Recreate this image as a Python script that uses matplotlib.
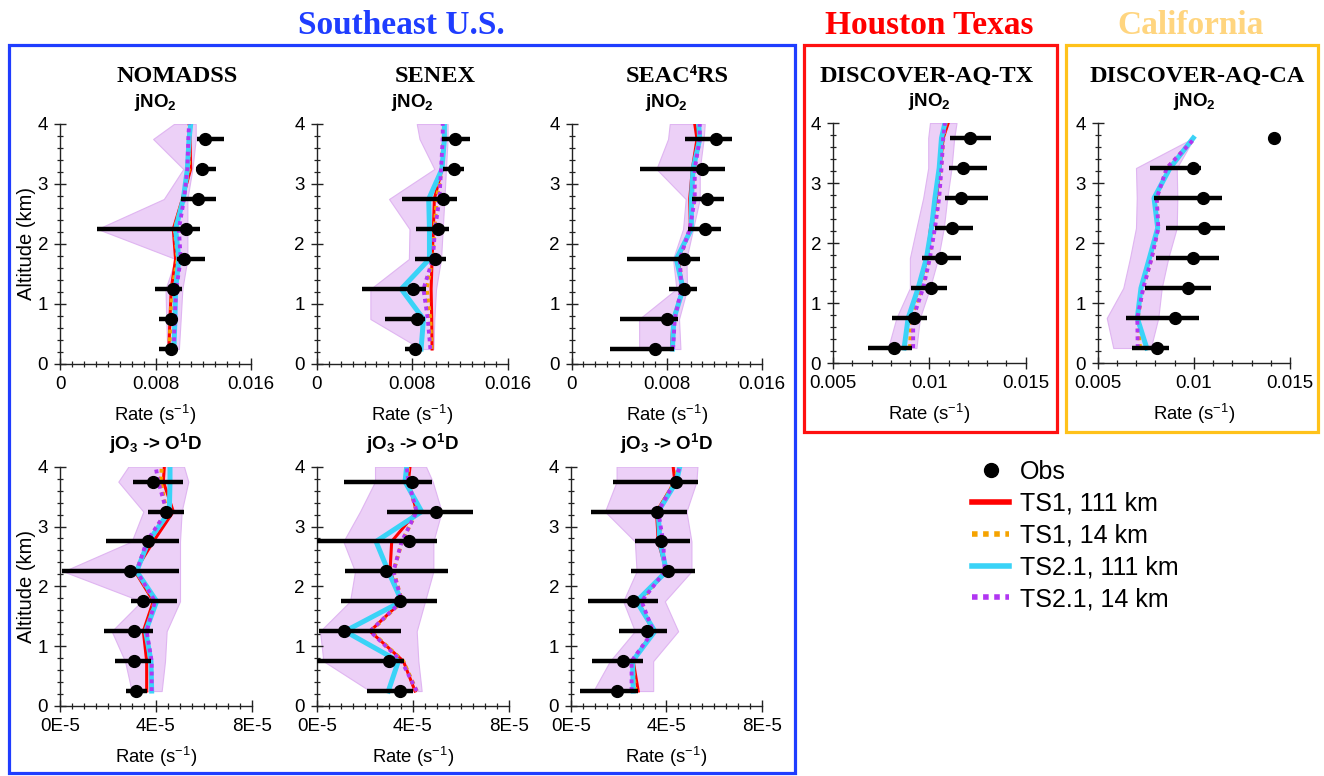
import numpy as np
import matplotlib
matplotlib.use("Agg")
import matplotlib.pyplot as plt
from matplotlib.lines import Line2D
from matplotlib.patches import Rectangle
from matplotlib.ticker import MultipleLocator, FixedLocator, FixedFormatter

plt.rcParams["font.family"] = ["Liberation Sans", "DejaVu Sans"]
plt.rcParams["mathtext.fontset"] = "custom"
plt.rcParams["mathtext.rm"] = "Liberation Sans"
plt.rcParams["mathtext.it"] = "Liberation Sans:italic"
plt.rcParams["mathtext.bf"] = "Liberation Sans:bold"

# ---------------------------------------------------------------- data
# altitude bins (km): observations, and model profiles (which reach the top)
z_obs = [0.25, 0.75, 1.25, 1.75, 2.25, 2.75, 3.25, 3.75]
z_mod = [0.25, 0.75, 1.25, 1.75, 2.25, 2.75, 3.25, 3.75, 4.0]
z_mod_ca = [0.25, 0.75, 1.25, 1.75, 2.25, 2.75, 3.25, 3.75]

series_labels = ["Obs", "TS1, 111 km", "TS1, 14 km", "TS2.1, 111 km", "TS2.1, 14 km"]
region_titles = ["Southeast U.S.", "Houston Texas", "California"]
campaigns = ["NOMADSS", "SENEX", "SEAC\u2074RS", "DISCOVER-AQ-TX", "DISCOVER-AQ-CA"]

# jNO2 (s-1) -- NOMADSS
nomadss_jno2_obs = [0.00926, 0.00932, 0.00949, 0.01039, 0.01055, 0.01157, 0.01187, 0.01213]
nomadss_jno2_lo = [0.00831, 0.00831, 0.00794, 0.00982, 0.00314, 0.01011, 0.01137, 0.01151]
nomadss_jno2_hi = [0.00982, 0.00974, 0.01025, 0.01213, 0.01173, 0.01305, 0.01305, 0.01370]
nomadss_jno2_ts1_111 = [0.00912, 0.00921, 0.00932, 0.00968, 0.00949, 0.01025, 0.01095, 0.01089, 0.01095]
nomadss_jno2_ts1_14 = [0.00918, 0.00925, 0.00940, 0.00985, 0.00960, 0.01030, 0.01080, 0.01080, 0.01085]
nomadss_jno2_ts2_111 = [0.00954, 0.00963, 0.00968, 0.00996, 0.00968, 0.01033, 0.01067, 0.01081, 0.01095]
nomadss_jno2_ts2_14 = [0.00954, 0.00960, 0.00974, 0.01011, 0.00996, 0.01039, 0.01067, 0.01075, 0.01081]
nomadss_jno2_rng_lo = [0.00898, 0.00890, 0.00884, 0.00968, 0.00314, 0.00870, 0.01033, 0.00780, 0.00954]
nomadss_jno2_rng_hi = [0.00996, 0.01011, 0.01025, 0.01067, 0.01067, 0.01067, 0.01109, 0.01137, 0.01137]

# jNO2 (s-1) -- SENEX
senex_jno2_obs = [0.00826, 0.00840, 0.00804, 0.00990, 0.01018, 0.01059, 0.01151, 0.01156]
senex_jno2_lo = [0.00735, 0.00574, 0.00380, 0.00824, 0.00832, 0.00713, 0.01059, 0.01045]
senex_jno2_hi = [0.00873, 0.00907, 0.00910, 0.01081, 0.01104, 0.01170, 0.01234, 0.01284]
senex_jno2_ts1_111 = [0.00965, 0.00962, 0.00957, 0.00965, 0.00976, 0.00984, 0.01048, 0.01068, 0.01068]
senex_jno2_ts1_14 = [0.00960, 0.00950, 0.00920, 0.00968, 0.00985, 0.01005, 0.01045, 0.01060, 0.01060]
senex_jno2_ts2_111 = [0.00873, 0.00893, 0.00707, 0.00943, 0.00943, 0.00937, 0.01048, 0.01068, 0.01068]
senex_jno2_ts2_14 = [0.00951, 0.00929, 0.00893, 0.00971, 0.00990, 0.01026, 0.01040, 0.01054, 0.01054]
senex_jno2_rng_lo = [0.00873, 0.00449, 0.00449, 0.00771, 0.00776, 0.00605, 0.00984, 0.00860, 0.00837]
senex_jno2_rng_hi = [0.00976, 0.00984, 0.00998, 0.01040, 0.01054, 0.01068, 0.01081, 0.01095, 0.01095]

# jNO2 (s-1) -- SEAC4RS
seac4rs_jno2_obs = [0.00699, 0.00803, 0.00945, 0.00943, 0.01119, 0.01141, 0.01099, 0.01217]
seac4rs_jno2_lo = [0.00327, 0.00411, 0.00817, 0.00470, 0.00979, 0.01015, 0.00579, 0.00957]
seac4rs_jno2_hi = [0.00859, 0.00895, 0.01054, 0.01082, 0.01259, 0.01281, 0.01292, 0.01351]
seac4rs_jno2_ts1_111 = [0.00839, 0.00853, 0.00937, 0.00895, 0.00999, 0.00993, 0.01015, 0.01054, 0.01035]
seac4rs_jno2_ts1_14 = [0.00850, 0.00862, 0.00928, 0.00905, 0.00995, 0.01025, 0.01030, 0.01070, 0.01070]
seac4rs_jno2_ts2_111 = [0.00848, 0.00859, 0.00937, 0.00881, 0.01007, 0.01007, 0.01021, 0.01077, 0.01068]
seac4rs_jno2_ts2_14 = [0.00853, 0.00867, 0.00923, 0.00909, 0.00993, 0.01035, 0.01035, 0.01077, 0.01077]
seac4rs_jno2_rng_lo = [0.00568, 0.00568, 0.00881, 0.00853, 0.00937, 0.00959, 0.00713, 0.00811, 0.00825]
seac4rs_jno2_rng_hi = [0.00915, 0.00903, 0.00971, 0.00965, 0.01021, 0.01077, 0.01077, 0.01110, 0.01119]

# jNO2 (s-1) -- DISCOVER-AQ Texas
tx_jno2_obs = [0.00819, 0.00918, 0.01011, 0.01058, 0.01115, 0.01164, 0.01176, 0.01210]
tx_jno2_lo = [0.00682, 0.00805, 0.00904, 0.00964, 0.01029, 0.01081, 0.01103, 0.01107]
tx_jno2_hi = [0.00911, 0.00990, 0.01094, 0.01162, 0.01228, 0.01302, 0.01297, 0.01320]
tx_jno2_ts1_111 = [0.00869, 0.00890, 0.00945, 0.00989, 0.01006, 0.01037, 0.01055, 0.01072, 0.01098]
tx_jno2_ts1_14 = [0.00900, 0.00905, 0.00960, 0.00998, 0.01020, 0.01045, 0.01060, 0.01072, 0.01085]
tx_jno2_ts2_111 = [0.00869, 0.00890, 0.00942, 0.00985, 0.01011, 0.01029, 0.01051, 0.01063, 0.01081]
tx_jno2_ts2_14 = [0.00916, 0.00916, 0.00968, 0.01003, 0.01029, 0.01051, 0.01063, 0.01072, 0.01081]
tx_jno2_rng_lo = [0.00786, 0.00829, 0.00899, 0.00899, 0.00933, 0.00968, 0.00994, 0.00994, 0.01003]
tx_jno2_rng_hi = [0.00933, 0.00951, 0.01003, 0.01046, 0.01075, 0.01093, 0.01115, 0.01129, 0.01141]

# jNO2 (s-1) -- DISCOVER-AQ California
ca_jno2_obs = [0.00807, 0.00902, 0.00968, 0.00997, 0.01055, 0.01046, 0.00994, 0.01419]
ca_jno2_lo = [0.00680, 0.00647, 0.00746, 0.00803, 0.00855, 0.00795, 0.00772, 0.01419]
ca_jno2_hi = [0.00873, 0.01029, 0.01087, 0.01131, 0.01162, 0.01148, 0.01036, 0.01419]
ca_jno2_ts1_111 = [0.00755, 0.00706, 0.00725, 0.00769, 0.00812, 0.00793, 0.00876, 0.00997]
ca_jno2_ts1_14 = [0.00720, 0.00708, 0.00735, 0.00780, 0.00815, 0.00805, 0.00862, 0.01003]
ca_jno2_ts2_111 = [0.00755, 0.00706, 0.00725, 0.00769, 0.00812, 0.00793, 0.00876, 0.00997]
ca_jno2_ts2_14 = [0.00708, 0.00706, 0.00737, 0.00781, 0.00815, 0.00807, 0.00859, 0.01006]
ca_jno2_rng_lo = [0.00581, 0.00547, 0.00633, 0.00668, 0.00699, 0.00703, 0.00699, 0.00997]
ca_jno2_rng_hi = [0.00776, 0.00815, 0.00833, 0.00867, 0.00911, 0.00914, 0.00911, 0.01001]

# jO3 -> O1D, in units of 1e-5 s-1
JO3_UNIT = 1e-5

nomadss_jo3_obs = [3.158, 3.102, 3.102, 3.478, 2.921, 3.658, 4.410, 3.895]
nomadss_jo3_lo = [2.740, 2.295, 1.850, 2.963, 0.097, 1.906, 3.686, 3.060]
nomadss_jo3_hi = [3.617, 3.784, 3.867, 4.896, 4.966, 4.966, 5.190, 5.147]
nomadss_jo3_ts1_111 = [3.617, 3.617, 3.478, 3.895, 3.130, 3.895, 4.730, 4.312, 4.354]
nomadss_jo3_ts1_14 = [3.800, 3.800, 3.600, 3.950, 3.180, 3.660, 4.450, 4.200, 4.250]
nomadss_jo3_ts2_111 = [3.825, 3.797, 3.575, 4.034, 3.200, 3.686, 4.562, 4.590, 4.590]
nomadss_jo3_ts2_14 = [3.825, 3.825, 3.617, 3.964, 3.200, 3.617, 4.451, 4.103, 3.992]
nomadss_jo3_rng_lo = [2.990, 2.712, 2.156, 3.400, 0.139, 2.990, 3.478, 2.434, 2.852]
nomadss_jo3_rng_hi = [4.243, 4.382, 4.451, 5.008, 5.008, 5.008, 5.077, 5.355, 5.175]

senex_jo3_obs = [3.466, 3.023, 1.151, 3.466, 2.870, 3.841, 4.964, 3.979]
senex_jo3_lo = [2.080, 0.000, 0.111, 1.012, 1.179, 0.000, 2.939, 1.137]
senex_jo3_hi = [4.021, 3.633, 3.494, 5.019, 5.449, 5.019, 6.489, 4.783]
senex_jo3_ts1_111 = [4.090, 3.605, 2.218, 3.536, 3.050, 3.120, 4.160, 3.813, 3.882]
senex_jo3_ts1_14 = [4.160, 3.600, 2.250, 3.550, 3.200, 3.550, 4.160, 3.800, 3.800]
senex_jo3_ts2_111 = [2.981, 3.397, 1.179, 3.536, 2.981, 2.468, 4.367, 3.674, 3.744]
senex_jo3_ts2_14 = [4.160, 3.536, 2.218, 3.536, 3.189, 3.536, 4.160, 3.813, 3.744]
senex_jo3_rng_lo = [2.218, 0.277, 0.139, 1.387, 1.594, 1.109, 1.802, 2.426, 2.426]
senex_jo3_rng_hi = [4.367, 4.229, 4.160, 4.506, 4.853, 4.853, 5.199, 4.825, 4.548]

seac4rs_jo3_obs = [1.909, 2.188, 3.164, 2.606, 4.042, 3.763, 3.582, 4.418]
seac4rs_jo3_lo = [0.376, 0.864, 2.021, 0.697, 2.509, 2.676, 0.836, 1.770]
seac4rs_jo3_hi = [2.815, 3.024, 4.028, 3.652, 5.212, 5.003, 4.864, 5.324]
seac4rs_jo3_ts1_111 = [2.815, 2.606, 3.442, 2.815, 4.000, 3.652, 3.582, 4.348, 4.279]
seac4rs_jo3_ts1_14 = [2.700, 2.560, 3.450, 2.900, 3.950, 3.800, 3.620, 4.350, 4.500]
seac4rs_jo3_ts2_111 = [2.606, 2.578, 3.512, 2.746, 4.000, 3.721, 3.652, 4.418, 4.557]
seac4rs_jo3_ts2_14 = [2.537, 2.537, 3.442, 2.955, 3.930, 3.861, 3.652, 4.348, 4.557]
seac4rs_jo3_rng_lo = [0.934, 1.631, 2.676, 2.188, 2.746, 2.676, 1.422, 1.909, 1.909]
seac4rs_jo3_rng_hi = [3.442, 3.442, 4.488, 3.930, 5.045, 5.045, 4.836, 5.254, 5.296]

# tick labels
se_jno2_ticks = [0, 0.008, 0.016]
se_jno2_ticklabels = ["0", "0.008", "0.016"]
dq_jno2_ticks = [0.005, 0.01, 0.015]
dq_jno2_ticklabels = ["0.005", "0.01", "0.015"]
jo3_ticks = [0, 4e-5, 8e-5]
jo3_ticklabels = ["0E-5", "4E-5", "8E-5"]

# ---------------------------------------------------------------- style
C_RED = "#FF0000"
C_ORANGE = "#F5A300"
C_CYAN = "#3AD3F7"
C_PURPLE = "#B136F2"
C_BAND = "#EACBF7"
C_BAND_EDGE = "#DDB0F0"
DOT = (0, (1, 1))

W, H = 1324, 776
fig = plt.figure(figsize=(W / 100, H / 100), dpi=100)


def px_axes(x0, x1, y0, y1):
    return fig.add_axes([x0 / W, 1 - y1 / H, (x1 - x0) / W, (y1 - y0) / H])


def draw_profile(ax, zm, obs, lo, hi, ts1_111, ts1_14, ts2_111, ts2_14,
                 rlo, rhi, scale=1.0):
    s = lambda v: np.asarray(v, dtype=float) * scale
    o, l, h = s(obs), s(lo), s(hi)
    ax.fill_betweenx(zm, s(rlo), s(rhi), facecolor=C_BAND, edgecolor=C_BAND_EDGE,
                     lw=0.8, alpha=0.9, zorder=1)
    ax.plot(s(ts1_111), zm, color=C_RED, lw=2.2, zorder=2)
    ax.plot(s(ts1_14), zm, color=C_ORANGE, lw=2.8, ls=DOT, zorder=3)
    ax.plot(s(ts2_111), zm, color=C_CYAN, lw=3.6, zorder=4)
    ax.plot(s(ts2_14), zm, color=C_PURPLE, lw=2.8, ls=DOT, zorder=5)
    ax.errorbar(o, z_obs, xerr=[o - l, h - o], fmt="o", color="k", ms=8.5,
                elinewidth=3.2, capsize=0, zorder=6)


def style_axes(ax, xlim, ticks, ticklabels, minor, ylabel=False):
    ax.set_xlim(*xlim)
    ax.set_ylim(0, 4)
    for side in ("top", "right"):
        ax.spines[side].set_visible(False)
    for side in ("left", "bottom"):
        ax.spines[side].set_linewidth(1.0)
        ax.spines[side].set_color("#222222")
    ax.xaxis.set_major_locator(FixedLocator(ticks))
    ax.xaxis.set_major_formatter(FixedFormatter(ticklabels))
    ax.xaxis.set_minor_locator(MultipleLocator(minor))
    ax.yaxis.set_major_locator(MultipleLocator(1))
    ax.yaxis.set_minor_locator(MultipleLocator(0.2))
    ax.tick_params(which="major", direction="inout", length=9, width=1.0,
                   color="#222222", labelsize=13.5, pad=4)
    ax.tick_params(which="minor", direction="inout", length=5, width=0.9,
                   color="#222222")
    ax.set_xlabel("Rate (s$^{-1}$)", fontsize=13.3, labelpad=7)
    if ylabel:
        ax.set_ylabel("Altitude (km)", fontsize=14.5, labelpad=1)


jno2_title = r"jNO$_\mathbf{2}$"
jo3_title = r"jO$_\mathbf{3}$ -> O$^\mathbf{1}$D"
TITLE_KW = dict(fontsize=13.5, fontweight="bold", pad=12)

# ---------------------------------------------------------------- top row (jNO2)
top = (124, 364)
ax = px_axes(60, 251, *top)
draw_profile(ax, z_mod, nomadss_jno2_obs, nomadss_jno2_lo, nomadss_jno2_hi,
             nomadss_jno2_ts1_111, nomadss_jno2_ts1_14, nomadss_jno2_ts2_111,
             nomadss_jno2_ts2_14, nomadss_jno2_rng_lo, nomadss_jno2_rng_hi)
style_axes(ax, (0, 0.016), se_jno2_ticks, se_jno2_ticklabels, 0.001, ylabel=True)
ax.set_title(jno2_title, **TITLE_KW)

ax = px_axes(316.7, 508, *top)
draw_profile(ax, z_mod, senex_jno2_obs, senex_jno2_lo, senex_jno2_hi,
             senex_jno2_ts1_111, senex_jno2_ts1_14, senex_jno2_ts2_111,
             senex_jno2_ts2_14, senex_jno2_rng_lo, senex_jno2_rng_hi)
style_axes(ax, (0, 0.016), se_jno2_ticks, se_jno2_ticklabels, 0.001)
ax.set_title(jno2_title, **TITLE_KW)

ax = px_axes(571.5, 762, *top)
draw_profile(ax, z_mod, seac4rs_jno2_obs, seac4rs_jno2_lo, seac4rs_jno2_hi,
             seac4rs_jno2_ts1_111, seac4rs_jno2_ts1_14, seac4rs_jno2_ts2_111,
             seac4rs_jno2_ts2_14, seac4rs_jno2_rng_lo, seac4rs_jno2_rng_hi)
style_axes(ax, (0, 0.016), se_jno2_ticks, se_jno2_ticklabels, 0.001)
ax.set_title(jno2_title, **TITLE_KW)

ax = px_axes(833, 1025.7, 123, 363)
draw_profile(ax, z_mod, tx_jno2_obs, tx_jno2_lo, tx_jno2_hi,
             tx_jno2_ts1_111, tx_jno2_ts1_14, tx_jno2_ts2_111,
             tx_jno2_ts2_14, tx_jno2_rng_lo, tx_jno2_rng_hi)
style_axes(ax, (0.005, 0.015), dq_jno2_ticks, dq_jno2_ticklabels, 0.001)
ax.set_title(jno2_title, **TITLE_KW)

ax = px_axes(1097.7, 1290, 123, 363)
draw_profile(ax, z_mod_ca, ca_jno2_obs, ca_jno2_lo, ca_jno2_hi,
             ca_jno2_ts1_111, ca_jno2_ts1_14, ca_jno2_ts2_111,
             ca_jno2_ts2_14, ca_jno2_rng_lo, ca_jno2_rng_hi)
style_axes(ax, (0.005, 0.015), dq_jno2_ticks, dq_jno2_ticklabels, 0.001)
ax.set_title(jno2_title, **TITLE_KW)

# ---------------------------------------------------------------- bottom row (jO3)
bot = (466.7, 706)
ax = px_axes(60, 251.7, *bot)
draw_profile(ax, z_mod, nomadss_jo3_obs, nomadss_jo3_lo, nomadss_jo3_hi,
             nomadss_jo3_ts1_111, nomadss_jo3_ts1_14, nomadss_jo3_ts2_111,
             nomadss_jo3_ts2_14, nomadss_jo3_rng_lo, nomadss_jo3_rng_hi, JO3_UNIT)
style_axes(ax, (0, 8e-5), jo3_ticks, jo3_ticklabels, 5e-6, ylabel=True)
ax.set_title(jo3_title, **TITLE_KW)

ax = px_axes(316.7, 509, *bot)
draw_profile(ax, z_mod, senex_jo3_obs, senex_jo3_lo, senex_jo3_hi,
             senex_jo3_ts1_111, senex_jo3_ts1_14, senex_jo3_ts2_111,
             senex_jo3_ts2_14, senex_jo3_rng_lo, senex_jo3_rng_hi, JO3_UNIT)
style_axes(ax, (0, 8e-5), jo3_ticks, jo3_ticklabels, 5e-6)
ax.set_title(jo3_title, **TITLE_KW)

ax = px_axes(571, 762, *bot)
draw_profile(ax, z_mod, seac4rs_jo3_obs, seac4rs_jo3_lo, seac4rs_jo3_hi,
             seac4rs_jo3_ts1_111, seac4rs_jo3_ts1_14, seac4rs_jo3_ts2_111,
             seac4rs_jo3_ts2_14, seac4rs_jo3_rng_lo, seac4rs_jo3_rng_hi, JO3_UNIT)
style_axes(ax, (0, 8e-5), jo3_ticks, jo3_ticklabels, 5e-6)
ax.set_title(jo3_title, **TITLE_KW)

# ---------------------------------------------------------------- titles and frames
serif = ["Liberation Serif", "DejaVu Serif"]
for name, xc in zip(campaigns, [177, 435, 677, 927, 1197]):
    fig.text(xc / W, 1 - 76 / H, name, ha="center", va="center",
             fontsize=17.5, fontweight="bold", family=serif)

region_colors = ["#1F3DFF", "#FF0000", "#FFD57F"]
frame_colors = ["#1F3DFF", "#FF1010", "#FFC21A"]
for name, xc, col in zip(region_titles, [401, 929, 1191], region_colors):
    fig.text(xc / W, 1 - 26 / H, name, ha="center", va="center",
             fontsize=24, fontweight="bold", family=serif, color=col)

for (x0, y0, x1, y1), col in zip([(9, 45, 795, 773), (804, 45, 1057, 432),
                                  (1066, 45, 1318, 432)], frame_colors):
    fig.add_artist(Rectangle((x0 / W, 1 - y1 / H), (x1 - x0) / W, (y1 - y0) / H,
                             transform=fig.transFigure, fill=False,
                             edgecolor=col, lw=2.3))

# ---------------------------------------------------------------- legend
handles = [
    Line2D([], [], ls="none", marker="o", ms=10, color="k"),
    Line2D([], [], color=C_RED, lw=4),
    Line2D([], [], color=C_ORANGE, lw=4, ls=DOT),
    Line2D([], [], color=C_CYAN, lw=4),
    Line2D([], [], color=C_PURPLE, lw=4, ls=DOT),
]
fig.legend(handles, series_labels, loc="upper left",
           bbox_to_anchor=(972 / W, 1 - 460 / H), frameon=False, fontsize=18,
           handlelength=1.48, handletextpad=0.45, labelspacing=0.31,
           borderpad=0, borderaxespad=0)

fig.savefig("out.png", dpi=100)
